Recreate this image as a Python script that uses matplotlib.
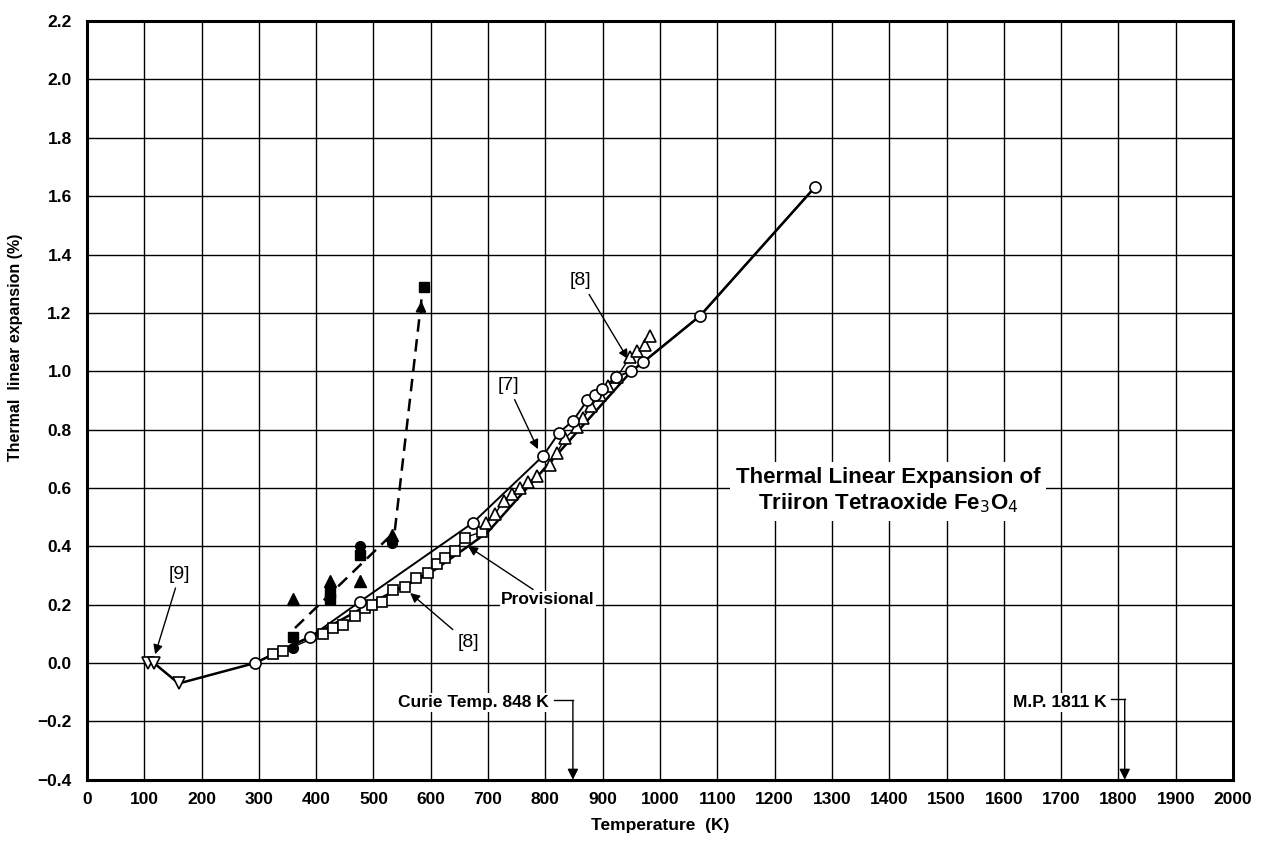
import matplotlib
matplotlib.use("Agg")
import matplotlib.pyplot as plt

plt.rcParams['font.family'] = ['Liberation Sans', 'DejaVu Sans']

# ---- data ----
ref9_T = [107, 117, 160]
ref9_y = [0.0, 0.0, -0.07]

ref7_T = [293, 390, 476, 673, 796, 824, 848, 873, 887, 899, 923, 949, 970, 1070, 1270]
ref7_y = [0.0, 0.09, 0.21, 0.48, 0.71, 0.79, 0.83, 0.90, 0.92, 0.94, 0.98, 1.00, 1.03, 1.19, 1.63]

sq8_T = [324, 342, 412, 429, 447, 468, 485, 497, 514, 534, 555, 575, 595, 610, 625, 642, 660, 689]
sq8_y = [0.03, 0.04, 0.10, 0.12, 0.13, 0.16, 0.19, 0.20, 0.21, 0.25, 0.26, 0.29, 0.31, 0.34, 0.36, 0.385, 0.43, 0.45]

tri8_T = [697, 712, 727, 741, 756, 770, 785, 808, 820, 834, 855, 866, 880, 895, 910, 925, 948, 960, 974, 982]
tri8_y = [0.48, 0.51, 0.556, 0.578, 0.60, 0.62, 0.64, 0.68, 0.72, 0.77, 0.81, 0.84, 0.88, 0.92, 0.95, 0.98, 1.05, 1.07, 1.09, 1.12]

prov_T = [117, 160, 293, 400, 500, 600, 665, 700, 800, 850, 900, 950, 970, 1070, 1270]
prov_y = [0.0, -0.07, 0.0, 0.10, 0.21, 0.31, 0.40, 0.45, 0.67, 0.78, 0.89, 1.00, 1.03, 1.19, 1.63]

fcirc_T = [360, 476, 533]
fcirc_y = [0.05, 0.40, 0.41]
fsq_T = [360, 424, 424, 476, 588]
fsq_y = [0.09, 0.22, 0.24, 0.37, 1.29]
ftri_T = [360, 424, 476, 533]
ftri_y = [0.22, 0.28, 0.28, 0.44]

dash_T = [363, 537, 584]
dash_y = [0.12, 0.45, 1.25]

curie_T = 848
mp_T = 1811

xticks = list(range(0, 2001, 100))
yticks = [-0.4, -0.2, 0.0, 0.2, 0.4, 0.6, 0.8, 1.0, 1.2, 1.4, 1.6, 1.8, 2.0, 2.2]

# ---- figure ----
fig = plt.figure(figsize=(12.64, 8.43), dpi=100)
ax = fig.add_axes([0.0688, 0.075, 0.9067, 0.900])
ax.set_xlim(0, 2000)
ax.set_ylim(-0.4, 2.2)
ax.set_xticks(xticks)
ax.set_yticks(yticks)
ax.set_xticklabels([str(t) for t in xticks], fontsize=12.5, fontweight='bold')
ax.set_yticklabels([("\u2212%.1f" % abs(v)) if v < 0 else ("%.1f" % v) for v in yticks],
                   fontsize=12.5, fontweight='bold')
ax.tick_params(axis='x', length=0, pad=9)
ax.tick_params(axis='y', length=0, pad=11)
ax.grid(True, color='black', linewidth=1.0)
ax.set_axisbelow(True)
for s in ax.spines.values():
    s.set_linewidth(2.2)

ax.set_xlabel('Temperature  (K)', fontsize=12.5, fontweight='bold', labelpad=8)
ax.set_ylabel('Thermal  linear expansion (%)', fontsize=11.5, fontweight='bold')
ax.yaxis.set_label_coords(-0.056, 0.57)

ms = 8
# lines
ax.plot(prov_T, prov_y, color='black', lw=1.8, zorder=3)
ax.plot(ref7_T, ref7_y, color='black', lw=1.4, zorder=3)
ax.plot(sq8_T, sq8_y, color='black', lw=1.0, zorder=3)
ax.plot(tri8_T, tri8_y, color='black', lw=1.0, zorder=3)

# markers
ax.plot(ref9_T, ref9_y, linestyle='none', marker='v', ms=ms, mfc='white', mec='black', mew=1.2, zorder=5)
ax.plot(sq8_T, sq8_y, linestyle='none', marker='s', ms=ms - 1, mfc='white', mec='black', mew=1.2, zorder=5)
ax.plot(tri8_T, tri8_y, linestyle='none', marker='^', ms=ms, mfc='white', mec='black', mew=1.2, zorder=5)
ax.plot(ref7_T, ref7_y, linestyle='none', marker='o', ms=ms, mfc='white', mec='black', mew=1.2, zorder=6)

ax.plot(fcirc_T, fcirc_y, linestyle='none', marker='o', ms=ms - 1, color='black', zorder=6)
ax.plot(fsq_T, fsq_y, linestyle='none', marker='s', ms=ms - 1, color='black', zorder=6)
ax.plot(ftri_T, ftri_y, linestyle='none', marker='^', ms=ms, color='black', zorder=6)

# dashed line with arrow
ax.plot(dash_T, dash_y, color='black', lw=1.8, ls=(0, (5, 3)), zorder=4)
ax.annotate('', xy=(dash_T[-1], dash_y[-1]), xytext=(dash_T[-1] - 1.5, dash_y[-1] - 0.06),
            arrowprops=dict(arrowstyle='-|>', color='black', lw=1.5, mutation_scale=15), zorder=6)

# reference labels with arrows
arrow = dict(arrowstyle='-|>', color='black', lw=1.0, mutation_scale=14, shrinkA=2, shrinkB=0)
ax.annotate('[9]', xy=(119, 0.03), xytext=(162, 0.305), fontsize=14, ha='center', va='center',
            arrowprops=arrow)
ax.annotate('[7]', xy=(787, 0.733), xytext=(735, 0.95), fontsize=14, ha='center', va='center',
            arrowprops=arrow)
ax.annotate('[8]', xy=(944, 1.042), xytext=(862, 1.31), fontsize=14, ha='center', va='center',
            arrowprops=arrow)
ax.annotate('[8]', xy=(564, 0.24), xytext=(665, 0.07), fontsize=14, ha='center', va='center',
            arrowprops=arrow)
ax.annotate('Provisional', xy=(665, 0.40), xytext=(723, 0.218), fontsize=12.5, fontweight='bold',
            ha='left', va='center', arrowprops=arrow,
            bbox=dict(boxstyle='square,pad=0.05', fc='white', ec='none'))

# title
ax.text(1398, 0.59, 'Thermal Linear Expansion of\nTriiron Tetraoxide Fe$_3$O$_4$',
        fontsize=16, fontweight='bold', ha='center', va='center', linespacing=1.2,
        bbox=dict(boxstyle='square,pad=0.25', fc='white', ec='none'), zorder=7)

# Curie and melting point markers
ax.text(806, -0.135, 'Curie Temp. 848 K', fontsize=12.5, fontweight='bold', ha='right', va='center',
        bbox=dict(boxstyle='square,pad=0.1', fc='white', ec='none'), zorder=7)
ax.plot([815, curie_T], [-0.128, -0.128], color='black', lw=1.0, zorder=7)
ax.annotate('', xy=(curie_T, -0.4), xytext=(curie_T, -0.128),
            arrowprops=dict(arrowstyle='-|>', color='black', lw=1.0, mutation_scale=16, shrinkA=0, shrinkB=0),
            zorder=7)

ax.text(1780, -0.135, 'M.P. 1811 K', fontsize=12.5, fontweight='bold', ha='right', va='center',
        bbox=dict(boxstyle='square,pad=0.1', fc='white', ec='none'), zorder=7)
ax.plot([1787, mp_T], [-0.124, -0.124], color='black', lw=1.0, zorder=7)
ax.annotate('', xy=(mp_T, -0.4), xytext=(mp_T, -0.124),
            arrowprops=dict(arrowstyle='-|>', color='black', lw=1.0, mutation_scale=16, shrinkA=0, shrinkB=0),
            zorder=7)

fig.savefig('out.png', dpi=100)
